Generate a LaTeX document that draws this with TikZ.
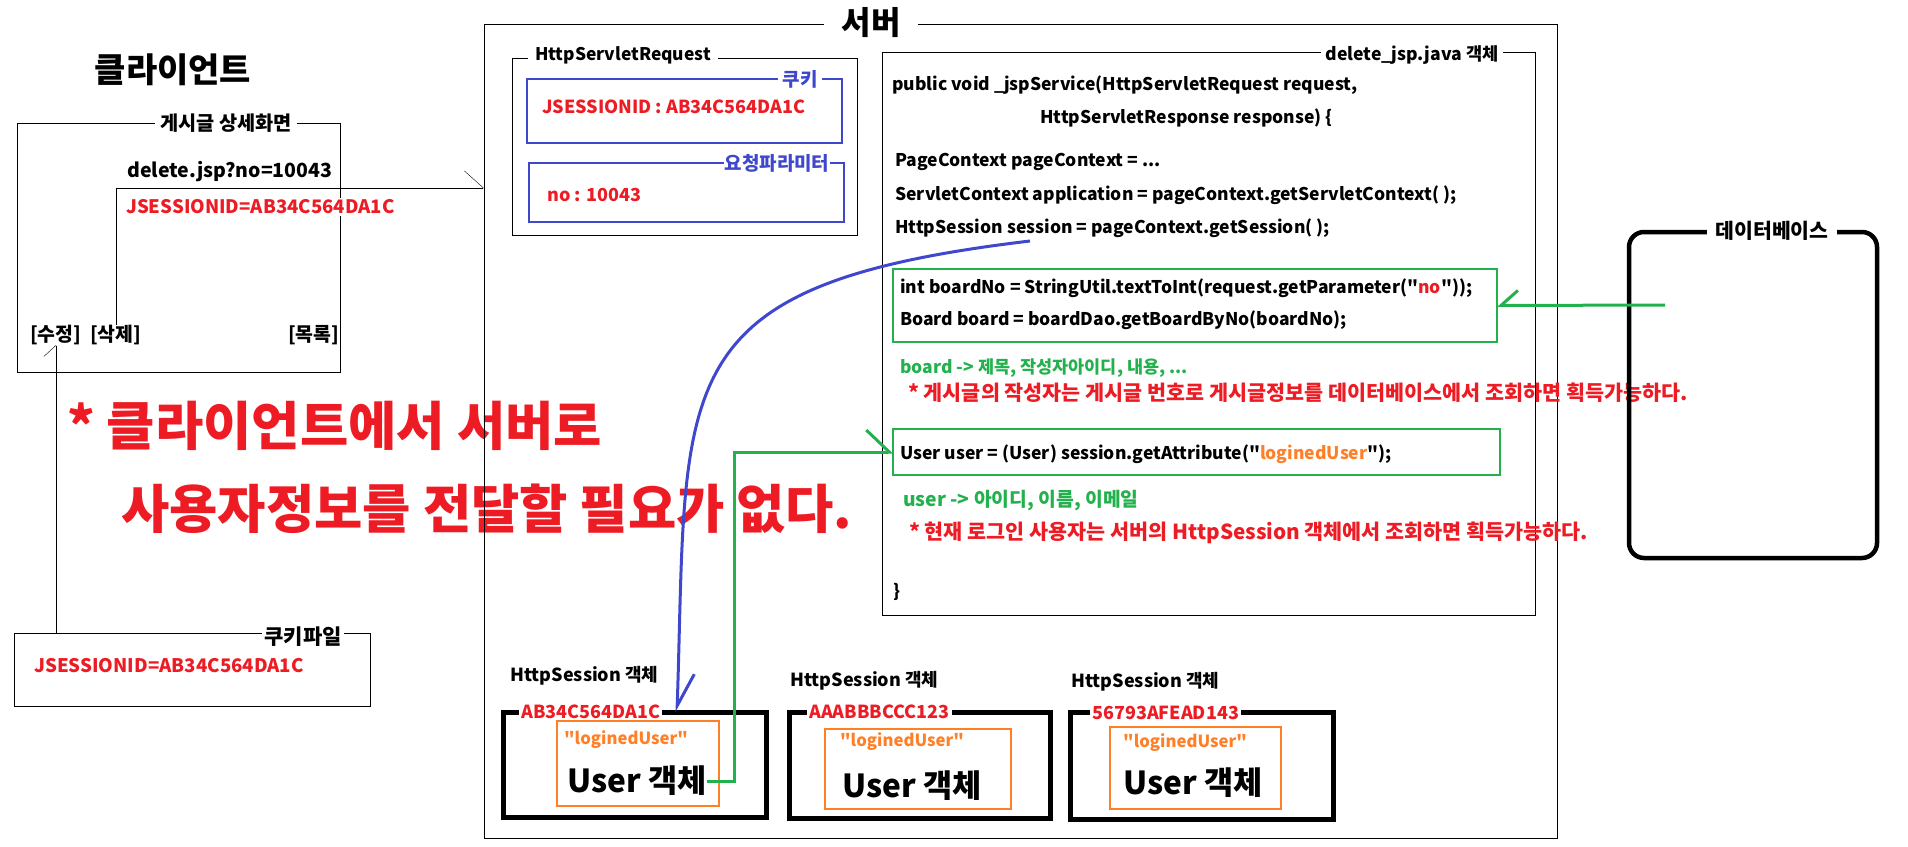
\documentclass[tikz,border=0pt]{standalone}
\usepackage{fontspec}
\setmainfont{Noto Sans CJK KR}[Ligatures=TeXOff]
\usetikzlibrary{arrows.meta}
\definecolor{paintred}{HTML}{ED1C24}
\definecolor{paintblue}{HTML}{3F48CC}
\definecolor{paintgreen}{HTML}{22B14C}
\definecolor{paintorange}{HTML}{FF7F27}
\newcommand{\fsz}[1]{\fontsize{#1}{#1}\selectfont\bfseries}

\begin{document}
\begin{tikzpicture}[x=1pt,y=-1pt,
  frame/.style={draw,inner sep=0pt,outer sep=0pt,anchor=north west},
  title/.style={fill=white,inner xsep=5pt,inner ysep=1pt,font=\fsz{18}},
  txt/.style={anchor=west,inner sep=0pt,font=\fsz{17.5}},
  note/.style={txt,text=paintred,font=\fsz{20.7}},
  sessbox/.style={frame,line width=5pt},
  userbox/.style={draw=paintorange,line width=1.3pt}]
  \useasboundingbox (0,0) rectangle (1908,846);

  % client
  \node[font=\fsz{34}] at (173,70) {클라이언트};
  \draw (17,123) rectangle (340,372);
  \node[title,font=\fsz{19.7}] at (226,123) {게시글 상세화면};
  \node[txt,font=\fsz{19.5}] at (127,172) {delete.jsp?no=10043};
  \node[txt,text=paintred,fill=white,inner ysep=2pt,font=\fsz{18.6}] at (126,207) {JSESSIONID=AB34C564DA1C};
  \node[txt,font=\fsz{19.4}] (btnEdit) at (30,335) {[수정]};
  \node[txt,font=\fsz{19.4}] (btnDel) at (90,335) {[삭제]};
  \node[txt,font=\fsz{19.4}] (btnList) at (288,335) {[목록]};

  \node[frame,minimum width=356,minimum height=73] (cookieFile) at (14,633) {};
  \node[title,inner xsep=2pt,font=\fsz{21}] at (303,637) {쿠키파일};
  \node[txt,text=paintred,font=\fsz{18.7}] at (34,666) {JSESSIONID=AB34C564DA1C};

  \node[txt,text=paintred,font=\fsz{52.5}] at (67,426) {* 클라이언트에서 서버로};
  \node[txt,text=paintred,font=\fsz{52.5}] at (121,509) {사용자정보를 전달할 필요가 없다.};

  % server
  \node[frame,minimum width=1073,minimum height=814] (server) at (484,24) {};
  \node[title,font=\fsz{32},inner xsep=18pt] at (871,23) {서버};
  \coordinate (reqIn) at (484,188);

  \draw (512,58) rectangle (857,235);
  \node[title,inner xsep=7pt,font=\fsz{17.4}] at (623,55) {HttpServletRequest};
  \draw[paintblue,line width=1.5pt] (527,79) rectangle (842,143);
  \node[title,text=paintblue,font=\fsz{19}] at (800,79) {쿠키};
  \node[txt,text=paintred,font=\fsz{18}] at (542,107) {JSESSIONID : AB34C564DA1C};
  \draw[paintblue,line width=1.5pt] (529,163) rectangle (844,222);
  \node[title,text=paintblue,font=\fsz{19},inner xsep=1pt] at (777,163) {요청파라미터};
  \node[txt,text=paintred,font=\fsz{18}] at (547,195) {no : 10043};

  \draw (882,52) rectangle (1535,615);
  \node[title,font=\fsz{17.6}] at (1412,55) {delete\_jsp.java 객체};
  \node[txt] at (892,85) {public void \_jspService(HttpServletRequest request,};
  \node[txt] at (1040,118) {HttpServletResponse response) \{};
  \node[txt] at (895,162) {PageContext pageContext = ...};
  \node[txt] at (895,195) {ServletContext application = pageContext.getServletContext( );};
  \node[txt] at (895,228) {HttpSession session = pageContext.getSession( );};
  \coordinate (sessRef) at (1030,241);

  \node[frame,draw=paintgreen,line width=1.3pt,minimum width=604,minimum height=73] (boardBox) at (893,269) {};
  \node[txt] at (900,288) {int boardNo = StringUtil.textToInt(request.getParameter("\textcolor{paintred}{no}"));};
  \node[txt] at (900,320) {Board board = boardDao.getBoardByNo(boardNo);};
  \node[txt,text=paintgreen] at (900,368) {board -> 제목, 작성자아이디, 내용, ...};
  \node[note] at (908,393) {* 게시글의 작성자는 게시글 번호로 게시글정보를 데이터베이스에서 조회하면 획득가능하다.};

  \node[frame,draw=paintgreen,line width=1.3pt,minimum width=607,minimum height=46] (userBox) at (893,429) {};
  \node[txt] at (900,454) {User user = (User) session.getAttribute("\textcolor{paintorange}{loginedUser}");};
  \node[txt,text=paintgreen,font=\fsz{19.3}] at (903,501) {user -> 아이디, 이름, 이메일};
  \node[note] at (909,533) {* 현재 로그인 사용자는 서버의 HttpSession 객체에서 조회하면 획득가능하다.};
  \node[txt] at (893,592) {\}};

  % sessions
  \node[txt,font=\fsz{18}] at (510,676) {HttpSession 객체};
  \node[sessbox,minimum width=263,minimum height=105] (sess1) at (503,712) {};
  \node[txt,text=paintred,fill=white,font=\fsz{18},inner xsep=2pt] at (519,712) {AB34C564DA1C};
  \draw[userbox] (557,721) rectangle (719,806);
  \node[txt,text=paintorange,font=\fsz{16.7}] at (564,740) {"loginedUser"};
  \node[txt,font=\fsz{31.7}] (user1) at (567,781) {User 객체};
  \coordinate (sessIn) at ([xshift=174pt]sess1.north west);

  \node[txt,font=\fsz{18}] at (790,681) {HttpSession 객체};
  \node[sessbox,minimum width=261,minimum height=106] (sess2) at (789,712) {};
  \node[txt,text=paintred,fill=white,font=\fsz{18},inner xsep=2pt] at (807,712) {AAABBBCCC123};
  \draw[userbox] (825,729) rectangle (1011,809);
  \node[txt,text=paintorange,font=\fsz{16.7}] at (840,742) {"loginedUser"};
  \node[txt,font=\fsz{31.7}] (user2) at (842,786) {User 객체};

  \node[txt,font=\fsz{18}] at (1071,682) {HttpSession 객체};
  \node[sessbox,minimum width=263,minimum height=107] (sess3) at (1070,712) {};
  \node[txt,text=paintred,fill=white,font=\fsz{18},inner xsep=2pt] at (1090,713) {56793AFEAD143};
  \draw[userbox] (1110,727) rectangle (1281,809);
  \node[txt,text=paintorange,font=\fsz{16.7}] at (1123,743) {"loginedUser"};
  \node[txt,font=\fsz{31.7}] (user3) at (1123,783) {User 객체};

  % database
  \node[frame,line width=4.5pt,rounded corners=15pt,minimum width=248,minimum height=326] (dbBox) at (1629,232) {};
  \node[title,font=\fsz{20.5},inner xsep=8pt] at (1772,231) {데이터베이스};
  \coordinate (dbOut) at (1665,305);

  % connectors
  \draw[-{Straight Barb[left,length=19pt,width=34pt]}] (btnDel.north) |- (reqIn);
  \draw[-{Straight Barb[left,length=11pt,width=24pt]}] (cookieFile.north -| btnEdit) -- (btnEdit.south);
  \draw[paintgreen,line width=3pt,-{Straight Barb[right,length=17pt,width=30pt]}] (dbOut) -- (boardBox.east);
  \draw[paintgreen,line width=3pt,-{Straight Barb[left,length=23pt,width=44pt]}] (user1.east) -- ++(28,0) |- (userBox.west);
  \draw[paintblue,line width=3pt,-{Straight Barb[left,length=32pt,width=32pt]}] (sessRef) .. controls (660,285) and (688,380) .. (sessIn);
\end{tikzpicture}
\end{document}
